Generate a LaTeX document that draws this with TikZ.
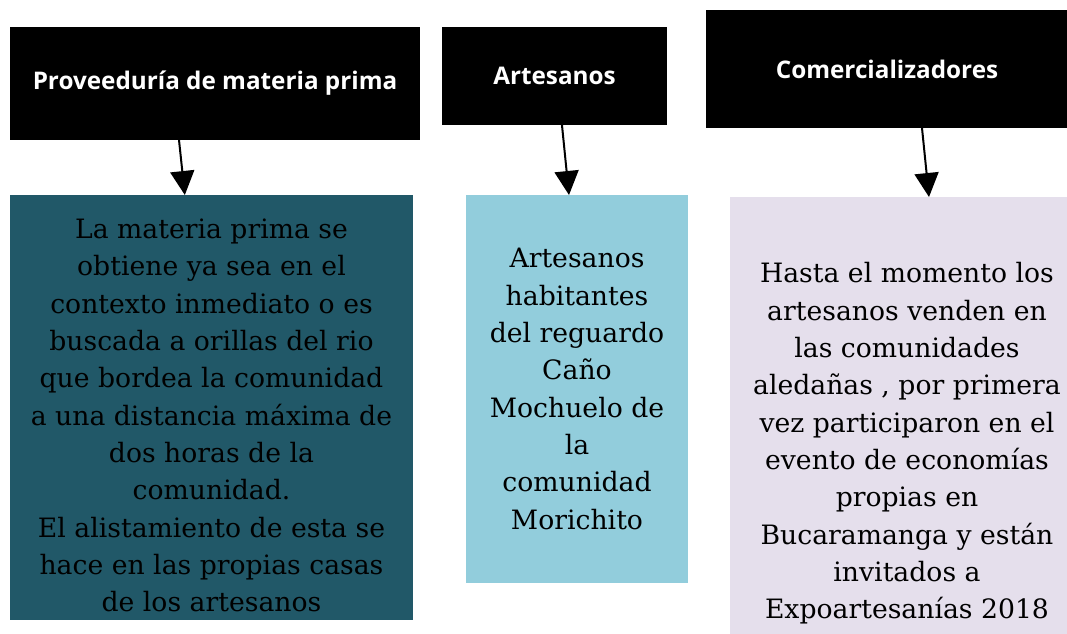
\documentclass[tikz,border=0pt]{standalone}
\usepackage{fontspec}
\setmainfont{DejaVu Serif}
\newfontfamily\headfont{Open Sans}
\usetikzlibrary{arrows.meta}
\definecolor{tealdark}{HTML}{215868}
\definecolor{aqualight}{HTML}{92CDDC}
\definecolor{lilac}{HTML}{E5DFEC}
\begin{document}
\begin{tikzpicture}[x=0.75pt,y=-0.75pt,inner sep=0pt,outer sep=0pt,
headblock/.style={fill=black,text=white,font=\headfont\bfseries\fontsize{18.2pt}{22pt}\selectfont},
textblock/.style={align=center,font=\fontsize{20pt}{28pt}\selectfont},
link/.style={-{Triangle[length=18pt,width=18pt]},line width=1.5pt}]
\useasboundingbox (0,0) rectangle (1067,633);
% header boxes
\draw (215,83.5) node[headblock,minimum width=307.5pt,minimum height=84.75pt] (prov) {Proveeduría de materia prima};
\draw (554.5,76) node[headblock,minimum width=168.75pt,minimum height=73.5pt] (art) {Artesanos};
\draw (887,69) node[headblock,minimum width=271.5pt,minimum height=88.5pt] (com) {Comercializadores};
% text boxes
\draw (211.5,407.5) node[textblock,fill=tealdark,minimum width=302.25pt,minimum height=318.75pt] (provtxt) {\rule{0pt}{27pt}La materia prima se\\ obtiene ya sea en el\\ contexto inmediato  o es\\ buscada a orillas del rio\\ que bordea la comunidad\\ a una distancia máxima de\\ dos horas de la\\ comunidad.\\ El alistamiento de esta se\\ hace en las propias casas\\ de los artesanos};
\draw (577,389) node[textblock,fill=aqualight,minimum width=166.5pt,minimum height=291pt] (arttxt) {Artesanos\\ habitantes\\ del reguardo\\ Caño\\ Mochuelo de\\ la\\ comunidad\\ Morichito};
\draw (907,443.5) node[textblock,fill=lilac,minimum width=265.5pt,minimum height=369.75pt] (comtxt) {Hasta el momento los\\ artesanos venden en\\ las comunidades\\ aledañas , por primera\\ vez participaron en el\\ evento de economías\\ propias en\\ Bucaramanga y están\\ invitados a\\ Expoartesanías 2018};
% arrows
\draw[link] ([xshift=-27pt]prov.south) -- ([xshift=-20pt]provtxt.north);
\draw[link] ([xshift=5.6pt]art.south) -- ([xshift=-6pt]arttxt.north);
\draw[link] ([xshift=26.25pt]com.south) -- ([xshift=16.5pt]comtxt.north);
\end{tikzpicture}
\end{document}
